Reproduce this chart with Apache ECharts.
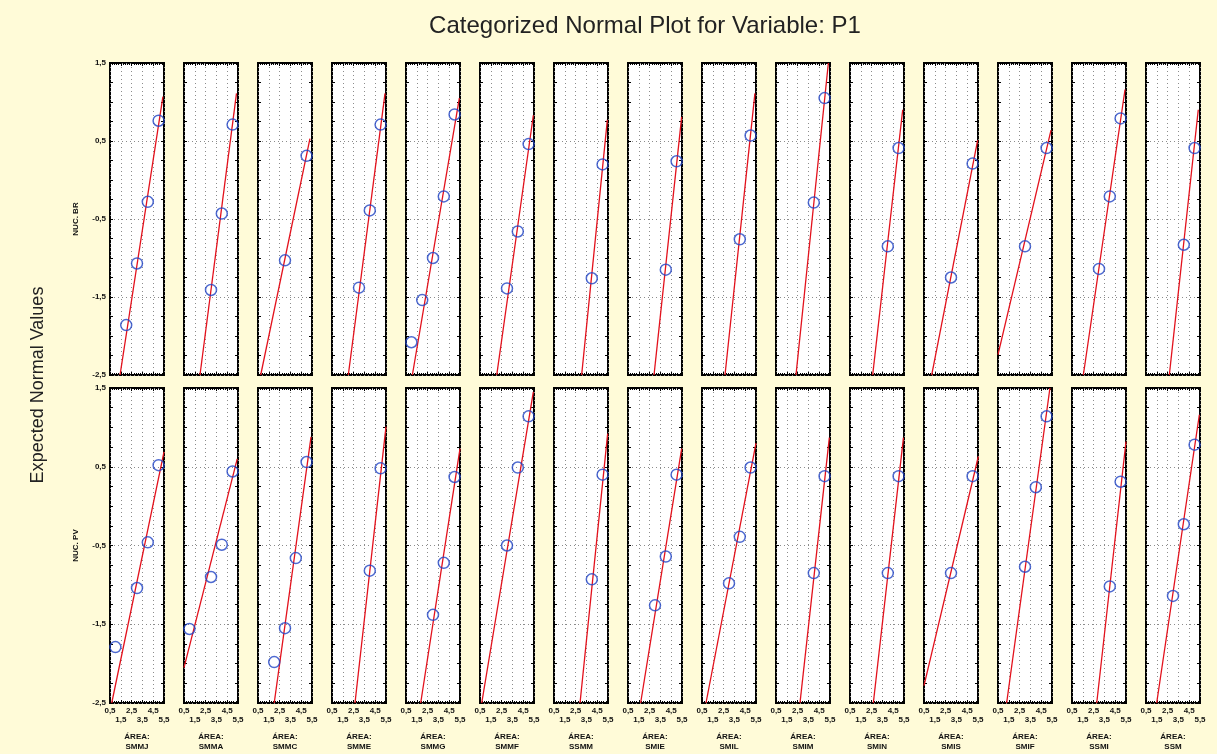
<!DOCTYPE html>
<html>
<head>
<meta charset="utf-8">
<script src="https://cdn.jsdelivr.net/npm/echarts@6/dist/echarts.min.js"></script>
<style>
  html, body { margin: 0; padding: 0; background: #fffbd8; }
  #chart { width: 1217px; height: 754px; }
</style>
</head>
<body>
<div id="chart"></div>
<script>
// Area codes, one panel per area
const categories = ['SMMJ', 'SMMA', 'SMMC', 'SMME', 'SMMG', 'SMMF', 'SSMM', 'SMIE',
                    'SMIL', 'SMIM', 'SMIN', 'SMIS', 'SMIF', 'SSMI', 'SSM'];

// Row labels (variables)
const rowNames = ['NUC. BR', 'NUC. PV'];

// Observed value vs expected normal value, NUC. BR
const brPoints = [
  [[5, 0.76], [4, -0.28], [3, -1.07], [2, -1.86]],
  [[5, 0.71], [4, -0.43], [3, -1.41]],
  [[5, 0.31], [3, -1.03]],
  [[5, 0.71], [4, -0.39], [3, -1.38]],
  [[5, 0.84], [4, -0.21], [3, -1.0], [2, -1.54], [1, -2.08]],
  [[5, 0.46], [4, -0.66], [3, -1.39]],
  [[5, 0.2], [4, -1.26]],
  [[5, 0.24], [4, -1.15]],
  [[5, 0.57], [4, -0.76]],
  [[5, 1.05], [4, -0.29]],
  [[5, 0.41], [4, -0.85]],
  [[5, 0.21], [3, -1.25]],
  [[5, 0.41], [3, -0.85]],
  [[5, 0.79], [4, -0.21], [3, -1.14]],
  [[5, 0.41], [4, -0.83]]
];

// Fitted normal line end points, NUC. BR
const brLines = [
  [[1.43, -2.5], [5.4, 1.07]],
  [[1.98, -2.5], [5.36, 1.11]],
  [[0.75, -2.5], [5.31, 0.53]],
  [[2.01, -2.5], [5.41, 1.11]],
  [[1.09, -2.5], [5.44, 1.05]],
  [[2.05, -2.5], [5.44, 0.83]],
  [[3.06, -2.5], [5.44, 0.77]],
  [[2.91, -2.5], [5.47, 0.81]],
  [[2.63, -2.5], [5.4, 1.11]],
  [[2.35, -2.5], [5.35, 1.5]],
  [[2.6, -2.5], [5.38, 0.9]],
  [[1.21, -2.5], [5.47, 0.51]],
  [[0.5, -2.24], [5.41, 0.64]],
  [[1.55, -2.5], [5.41, 1.16]],
  [[2.66, -2.5], [5.34, 0.9]]
];

// Observed value vs expected normal value, NUC. PV
const pvPoints = [
  [[5, 0.52], [4, -0.46], [3, -1.04], [1, -1.79]],
  [[5, 0.44], [4, -0.49], [3, -0.9], [1, -1.56]],
  [[5, 0.56], [4, -0.66], [3, -1.55], [2, -1.98]],
  [[5, 0.48], [4, -0.82]],
  [[5, 0.37], [4, -0.72], [3, -1.38]],
  [[5, 1.14], [4, 0.49], [3, -0.5]],
  [[5, 0.4], [4, -0.93]],
  [[5, 0.4], [4, -0.64], [3, -1.26]],
  [[5, 0.49], [4, -0.39], [3, -0.98]],
  [[5, 0.38], [4, -0.85]],
  [[5, 0.38], [4, -0.85]],
  [[5, 0.38], [3, -0.85]],
  [[5, 1.14], [4, 0.24], [3, -0.77]],
  [[5, 0.31], [4, -1.02]],
  [[5, 0.78], [4, -0.23], [3, -1.14]]
];

// Fitted normal line end points, NUC. PV
const pvLines = [
  [[0.66, -2.5], [5.5, 0.69]],
  [[0.5, -2.05], [5.43, 0.6]],
  [[2.0, -2.5], [5.41, 0.88]],
  [[2.63, -2.5], [5.5, 1.01]],
  [[1.86, -2.5], [5.5, 0.73]],
  [[0.66, -2.5], [5.44, 1.45]],
  [[2.91, -2.5], [5.47, 0.92]],
  [[1.67, -2.5], [5.47, 0.73]],
  [[0.87, -2.5], [5.5, 0.8]],
  [[2.72, -2.5], [5.44, 0.87]],
  [[2.66, -2.5], [5.45, 0.87]],
  [[0.5, -2.28], [5.53, 0.63]],
  [[1.3, -2.5], [5.31, 1.5]],
  [[2.79, -2.5], [5.5, 0.82]],
  [[1.49, -2.5], [5.44, 1.16]]
];

const rowPoints = [brPoints, pvPoints];
const rowLines = [brLines, pvLines];

const chart = echarts.init(document.getElementById('chart'), null, { renderer: 'canvas' });

const FONT = 'Liberation Sans, Arial, sans-serif';
const comma = v => (Math.round(v * 10) / 10).toFixed(1).replace('.', ',');

// Panel geometry
const panelLeft = 110, panelPitch = 74, panelWidth = 54;
const rowTop = [63, 388], rowHeight = [312, 315];

const grids = [], xAxes = [], yAxes = [], series = [];

const tickStyle = { color: '#000', width: 1 };
const hiddenLine = { show: false, onZero: false };
const dotted = { show: true, lineStyle: { color: '#8c8c8c', type: [1, 3], width: 1 } };
const smallText = { fontSize: 8, fontWeight: 'bold', fontFamily: FONT, color: '#111' };
const xRange = { type: 'value', min: 0.5, max: 5.5, interval: 1 };

for (let r = 0; r < 2; r++) {
  for (let c = 0; c < categories.length; c++) {
    const g = grids.length;
    grids.push({
      left: panelLeft + panelPitch * c,
      top: rowTop[r],
      width: panelWidth,
      height: rowHeight[r],
      show: true,
      backgroundColor: '#ffffff',
      borderColor: '#000',
      borderWidth: 2
    });
    const isBottom = r === 1;
    const isFirst = c === 0;

    // bottom x axis: ticks, grid lines, first row of staggered labels, area name
    const xi = xAxes.length;
    xAxes.push(Object.assign({
      gridIndex: g, position: 'bottom',
      axisLine: hiddenLine,
      axisTick: { show: true, inside: true, length: 3, lineStyle: tickStyle },
      minorTick: { show: true, splitNumber: 5, length: 2, lineStyle: tickStyle },
      splitLine: dotted,
      axisLabel: Object.assign({
        show: isBottom, margin: 4, showMinLabel: true, showMaxLabel: true,
        formatter: (v, idx) => (idx % 2 ? '' : comma(v))
      }, smallText),
      name: isBottom ? 'ÁREA:\n' + categories[c] : '',
      nameLocation: 'middle', nameGap: 29,
      nameTextStyle: Object.assign({ lineHeight: 10 }, smallText)
    }, xRange));
    // second row of staggered labels
    xAxes.push(Object.assign({
      gridIndex: g, position: 'bottom',
      axisLine: hiddenLine, axisTick: { show: false }, splitLine: { show: false },
      axisLabel: Object.assign({
        show: isBottom, margin: 13, showMinLabel: true, showMaxLabel: true,
        formatter: (v, idx) => (idx % 2 ? comma(v) : '')
      }, smallText)
    }, xRange));
    // top x axis (ticks only)
    xAxes.push(Object.assign({
      gridIndex: g, position: 'top',
      axisLine: hiddenLine,
      axisTick: { show: true, inside: true, length: 3, lineStyle: tickStyle },
      minorTick: { show: true, splitNumber: 5, length: 2, lineStyle: tickStyle },
      splitLine: { show: false },
      axisLabel: { show: false }
    }, xRange));

    // left y axis
    const yi = yAxes.length;
    yAxes.push({
      type: 'value', gridIndex: g, position: 'left',
      min: -2.5, max: 1.5, interval: 1,
      axisLine: hiddenLine,
      axisTick: { show: true, inside: true, length: 3, lineStyle: tickStyle },
      minorTick: { show: true, splitNumber: 4, length: 3, lineStyle: tickStyle },
      splitLine: dotted,
      axisLabel: Object.assign({
        show: isFirst, margin: 4, showMinLabel: true, showMaxLabel: true,
        formatter: v => comma(v)
      }, smallText),
      name: isFirst ? rowNames[r] : '',
      nameLocation: 'middle', nameGap: 30, nameRotate: 90,
      nameTextStyle: smallText
    });
    // right y axis (ticks only)
    yAxes.push({
      type: 'value', gridIndex: g, position: 'right',
      min: -2.5, max: 1.5, interval: 1,
      axisLine: hiddenLine,
      axisTick: { show: true, inside: true, length: 3, lineStyle: tickStyle },
      minorTick: { show: true, splitNumber: 4, length: 3, lineStyle: tickStyle },
      splitLine: { show: false },
      axisLabel: { show: false }
    });

    series.push({
      type: 'line', xAxisIndex: xi, yAxisIndex: yi,
      data: rowLines[r][c],
      showSymbol: false, clip: true, silent: true,
      lineStyle: { color: '#e3111c', width: 1.3 },
      z: 3
    });
    series.push({
      type: 'scatter', xAxisIndex: xi, yAxisIndex: yi,
      data: rowPoints[r][c],
      symbol: 'circle', symbolSize: 11, clip: false,
      itemStyle: { color: 'rgba(0,0,0,0)', borderColor: '#2143c4', borderWidth: 1.5 },
      z: 4
    });
  }
}

chart.setOption({
  animation: false,
  backgroundColor: '#fffbd8',
  title: {
    text: 'Categorized Normal Plot for Variable: P1',
    left: 640, top: 9, textAlign: 'center',
    textStyle: { fontSize: 24, fontWeight: 'normal', fontFamily: FONT, color: '#222' }
  },
  graphic: [{
    type: 'text',
    x: 38, y: 385, rotation: Math.PI / 2,
    style: {
      text: 'Expected Normal Values',
      font: '18px ' + FONT, fill: '#222',
      textAlign: 'center', textVerticalAlign: 'middle'
    }
  }],
  grid: grids,
  xAxis: xAxes,
  yAxis: yAxes,
  series: series
});
</script>
</body>
</html>
